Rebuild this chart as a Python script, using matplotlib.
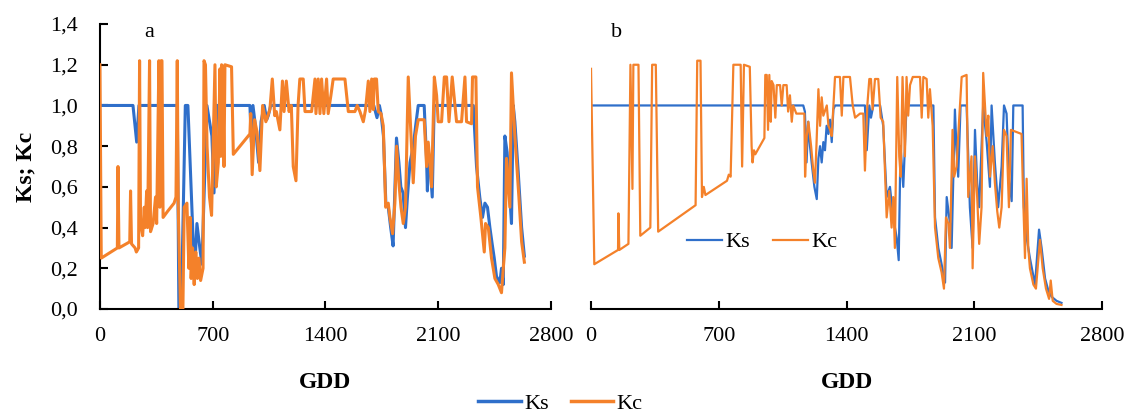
import matplotlib
matplotlib.use("Agg")
import matplotlib.pyplot as plt
from matplotlib.ticker import FuncFormatter
from matplotlib.lines import Line2D

plt.rcParams['font.family'] = ['Liberation Serif', 'DejaVu Serif']

# --- panel a: Ks and Kc against growing degree days ---
gdd_a_ks = [0, 205, 228, 242, 480, 490, 505, 530, 546, 578, 590, 602, 620, 633, 664, 695, 708, 726,
            931, 940, 950, 965, 985, 1000, 1020, 1035, 1045, 1060, 1700, 1720, 1735, 1745, 1760, 1775,
            1790, 1805, 1820, 1841, 1856, 1868, 1882, 1897, 1909, 1925, 1945, 1960, 1976, 2013, 2027,
            2033, 2038, 2048, 2063, 2075, 2318, 2338, 2358, 2375, 2390, 2406, 2421, 2435, 2448, 2462,
            2483, 2493, 2504, 2514, 2528, 2545, 2555, 2566, 2576, 2597, 2618, 2635]
ks_a = [1.0, 1.0, 0.82, 1.0, 1.0, 0.0, 0.0, 1.0, 1.0, 0.35, 0.22, 0.42, 0.3, 0.22, 1.0, 0.85, 0.57, 1.0,
        1.0, 0.82, 1.0, 0.9, 0.72, 0.92, 1.0, 0.93, 0.95, 1.0, 1.0, 0.94, 1.0, 0.96, 0.85, 0.52,
        0.5, 0.4, 0.31, 0.84, 0.72, 0.6, 0.57, 0.4, 0.55, 0.72, 0.8, 0.9, 1.0, 1.0, 0.75,
        0.58, 0.78, 0.72, 0.55, 1.0, 1.0, 0.7, 0.55, 0.45, 0.52, 0.5, 0.4, 0.32, 0.25, 0.16,
        0.13, 0.2, 0.12, 0.85, 0.77, 0.55, 0.42, 1.0, 0.92, 0.67, 0.4, 0.26]

gdd_a_kc = [0, 8, 108, 112, 118, 185, 190, 196, 218, 226, 240, 246, 252, 265, 275, 280, 290, 296, 308,
            314, 330, 345, 352, 366, 372, 380, 385, 392, 420, 460, 472, 480, 486, 500, 515, 523, 540,
            552, 560, 566, 575, 585, 595, 605, 615, 625, 640, 646, 655, 665, 680, 693, 700, 714, 722,
            735, 745, 750, 755, 762, 770, 776, 817, 828, 931, 936, 945, 960, 975, 993, 1010, 1030,
            1055, 1070, 1085, 1095, 1117, 1133, 1143, 1157, 1174, 1188, 1200, 1217, 1230, 1241, 1262,
            1273, 1314, 1335, 1341, 1355, 1366, 1376, 1390, 1407, 1417, 1434, 1448, 1521, 1542, 1583,
            1597, 1614, 1635, 1649, 1666, 1676, 1687, 1697, 1703, 1717, 1728, 1745, 1759, 1774, 1790,
            1800, 1817, 1831, 1842, 1856, 1869, 1883, 1897, 1914, 1931, 1945, 1959, 1976, 2013, 2028,
            2038, 2049, 2059, 2076, 2090, 2100, 2121, 2138, 2152, 2167, 2187, 2204, 2214, 2245, 2266,
            2276, 2307, 2313, 2334, 2344, 2365, 2386, 2394, 2411, 2431, 2452, 2473, 2493, 2504, 2514,
            2524, 2545, 2555, 2576, 2601, 2618, 2635]
kc_a = [1.2, 0.25, 0.3, 0.7, 0.3, 0.33, 0.58, 0.32, 0.3, 0.28, 0.3, 1.22, 0.42, 0.36, 0.5, 0.4, 0.58, 0.4, 1.22,
        0.38, 0.42, 0.55, 0.42, 1.22, 0.5, 1.22, 1.22, 0.45, 0.48, 0.52, 0.55, 1.22, 0.5, 0.0, 0.0, 0.5, 0.52,
        0.2, 0.45, 0.15, 0.3, 0.12, 0.28, 0.15, 0.25, 0.14, 0.2, 1.22, 1.2, 0.8, 0.55, 0.46, 0.7, 1.2, 0.6,
        0.72, 1.18, 0.75, 1.2, 1.19, 0.7, 1.2, 1.19, 0.76, 0.86, 0.96, 0.66, 0.93, 0.87, 0.68, 1.0, 0.92,
        0.98, 1.13, 0.95, 0.97, 0.88, 1.12, 0.97, 1.12, 0.97, 1.0, 0.7, 0.63, 1.0, 1.13, 1.13,
        0.97, 0.97, 1.13, 0.96, 1.13, 0.96, 1.13, 0.96, 1.13, 0.96, 1.05, 1.13, 1.13, 0.97, 0.97,
        1.0, 0.97, 0.92, 0.98, 1.12, 0.97, 1.13, 0.98, 1.13, 1.13, 0.97, 0.96, 0.9, 0.5, 0.52,
        0.45, 0.37, 0.52, 0.8, 0.62, 0.5, 0.42, 0.5, 1.14, 0.85, 0.62, 0.85, 0.93, 0.93, 0.7,
        0.82, 0.72, 0.6, 1.14, 1.05, 0.92, 0.92, 1.14, 1.14, 0.92, 1.14, 1.0, 0.92, 0.92, 1.14,
        0.92, 0.91, 1.14, 1.14, 0.6, 0.45, 0.28, 0.42, 0.4, 0.25, 0.15, 0.12, 0.08, 0.2, 0.3,
        0.74, 0.5, 1.16, 0.85, 0.55, 0.33, 0.23]

# --- panel b ---
gdd_b_ks = [0, 1163, 1172, 1181, 1190, 1200, 1209, 1224, 1237, 1246, 1255, 1264, 1273, 1282, 1291, 1301,
            1310, 1319, 1328, 1337, 1501, 1511, 1525, 1534, 1547, 1584, 1601, 1620, 1638, 1656, 1675,
            1686, 1696, 1711, 1729, 1876, 1885, 1903, 1921, 1940, 1949, 1967, 1976, 1994, 2003, 2012,
            2025, 2058, 2076, 2091, 2104, 2116, 2127, 2149, 2168, 2186, 2195, 2213, 2231, 2250, 2263,
            2277, 2290, 2305, 2314, 2365, 2372, 2387, 2405, 2420, 2433, 2455, 2469, 2488, 2506, 2524,
            2551, 2578]
ks_b = [1.0, 1.0, 0.97, 0.72, 0.92, 0.8, 0.72, 0.6, 0.54, 0.74, 0.8, 0.72, 0.82, 0.78, 0.9, 0.86,
        0.93, 0.82, 0.98, 1.0, 1.0, 0.78, 1.0, 0.94, 1.0, 1.0, 0.9, 0.55, 0.6, 0.45, 0.35,
        0.24, 0.8, 0.6, 1.0, 1.0, 0.45, 0.3, 0.22, 0.13, 0.55, 0.42, 0.3, 0.98, 0.78, 0.65,
        1.0, 1.0, 0.5, 0.3, 0.88, 0.62, 0.5, 1.0, 0.82, 0.6, 1.0, 0.72, 0.5, 0.7, 1.0,
        0.96, 0.65, 0.53, 1.0, 1.0, 0.5, 0.35, 0.25, 0.18, 0.12, 0.39, 0.3, 0.15, 0.09, 0.06,
        0.04, 0.03]

gdd_b_kc = [0, 18, 148, 150, 155, 205, 216, 227, 232, 260, 270, 325, 335, 355, 368, 573, 582, 600, 608,
            618, 627, 745, 755, 765, 780, 820, 828, 838, 870, 880, 885, 893, 900, 950, 955, 963, 970,
            977, 985, 990, 1000, 1010, 1018, 1036, 1045, 1054, 1072, 1080, 1090, 1100, 1108, 1125,
            1169, 1173, 1182, 1191, 1206, 1218, 1227, 1236, 1246, 1255, 1264, 1273, 1292, 1301, 1310,
            1319, 1328, 1337, 1364, 1374, 1383, 1419, 1434, 1447, 1474, 1492, 1501, 1514, 1525, 1534,
            1543, 1556, 1574, 1587, 1601, 1620, 1634, 1647, 1656, 1665, 1678, 1689, 1697, 1707, 1720,
            1729, 1738, 1748, 1763, 1803, 1812, 1821, 1839, 1848, 1857, 1872, 1885, 1903, 1921, 1934,
            1945, 1958, 1967, 1981, 1990, 2003, 2012, 2031, 2058, 2067, 2085, 2091, 2104, 2116, 2127,
            2140, 2149, 2168, 2177, 2186, 2201, 2213, 2226, 2237, 2250, 2263, 2277, 2290, 2301, 2359,
            2368, 2378, 2387, 2396, 2405, 2424, 2438, 2460, 2475, 2493, 2510, 2519, 2530, 2551, 2578]
kc_b = [1.18, 0.22, 0.29, 0.47, 0.29, 0.32, 1.2, 0.59, 1.2, 1.2, 0.36, 0.4, 1.2, 1.2, 0.38, 0.51, 1.22, 1.22, 0.55,
        0.6, 0.56, 0.63, 0.66, 0.65, 1.2, 1.2, 0.7, 1.2, 1.19, 0.8, 0.72, 0.78, 0.76, 0.84, 1.15, 1.15, 0.88,
        1.15, 0.92, 1.12, 1.1, 0.94, 1.1, 1.1, 1.0, 1.1, 1.1, 0.97, 1.05, 0.92, 1.0, 0.96,
        0.96, 0.65, 0.85, 0.92, 0.8, 0.68, 0.62, 0.82, 1.08, 0.9, 1.04, 0.95, 1.0, 0.9, 0.88,
        0.85, 1.0, 1.14, 1.14, 0.95, 1.14, 1.14, 1.0, 0.94, 0.96, 0.96, 0.68, 1.0, 1.13, 1.13,
        0.98, 1.13, 1.13, 0.94, 0.92, 0.45, 0.58, 0.4, 0.55, 0.3, 1.14, 0.75, 0.65, 1.14, 0.75,
        1.14, 0.95, 1.1, 1.14, 1.14, 0.94, 1.14, 1.13, 0.94, 1.08, 0.9, 0.4, 0.25, 0.18, 0.1,
        0.45, 0.42, 0.3, 0.88, 0.65, 0.7, 0.85, 1.14, 1.15, 0.55, 0.75, 0.2, 0.75, 0.55, 0.32,
        0.5, 1.16, 0.85, 0.95, 0.65, 0.8, 0.62, 0.48, 0.4, 0.5, 0.88, 0.85, 0.5, 0.88, 0.86,
        0.55, 0.25, 0.64, 0.3, 0.2, 0.12, 0.1, 0.34, 0.2, 0.1, 0.05, 0.14, 0.04, 0.025, 0.02]

blue = '#2f6fca'
orange = '#f4812a'
fs = 16

fig = plt.figure(figsize=(11.32, 4.16), dpi=100)
ax_a = fig.add_axes([0.0883, 0.2572, 0.3984, 0.685])
ax_b = fig.add_axes([0.5221, 0.2572, 0.4514, 0.685])

ax_a.plot(gdd_a_ks, ks_a, color=blue, lw=2.2, zorder=2)
ax_a.plot(gdd_a_kc, kc_a, color=orange, lw=2.2, zorder=3)
ax_b.plot(gdd_b_ks, ks_b, color=blue, lw=1.6, zorder=2)
ax_b.plot(gdd_b_kc, kc_b, color=orange, lw=1.6, zorder=3)

comma = FuncFormatter(lambda v, p: ('%.1f' % v).replace('.', ','))

for ax in (ax_a, ax_b):
    ax.set_xlim(0, 2800)
    ax.set_ylim(0, 1.4)
    ax.set_xticks([0, 700, 1400, 2100, 2800])
    ax.spines['top'].set_visible(False)
    ax.spines['right'].set_visible(False)
    ax.spines['bottom'].set_linewidth(1.5)
    ax.spines['left'].set_linewidth(1.5)
    ax.tick_params(axis='x', direction='in', length=6, width=1.5, labelsize=fs, pad=13)
    ax.set_xlabel('GDD', fontsize=fs + 1, fontweight='bold')
    ax.xaxis.set_label_coords(0.5, -0.22)

ax_a.set_yticks([0, 0.2, 0.4, 0.6, 0.8, 1.0, 1.2, 1.4])
ax_a.yaxis.set_major_formatter(comma)
ax_a.tick_params(axis='y', direction='in', length=6, width=1.5, labelsize=fs, pad=16)
ax_a.set_ylabel('Ks; Kc', fontsize=fs + 1, fontweight='bold')
ax_a.yaxis.set_label_coords(-0.14, 0.5)

ax_b.spines['left'].set_visible(False)
ax_b.set_yticks([])

ax_a.text(0.11, 0.97, 'a', transform=ax_a.transAxes, fontsize=fs, ha='center', va='center')
ax_b.text(0.05, 0.97, 'b', transform=ax_b.transAxes, fontsize=fs, ha='center', va='center')

handles = [Line2D([], [], color=blue, lw=1.6), Line2D([], [], color=orange, lw=1.6)]
ax_b.legend(handles, ['Ks', 'Kc'], loc='center', bbox_to_anchor=(0.335, 0.235), ncol=2,
            frameon=False, fontsize=fs, handlelength=1.6, handletextpad=0.15, columnspacing=1.0)

fig_handles = [Line2D([], [], color=blue, lw=2.5), Line2D([], [], color=orange, lw=2.5)]
fig.legend(fig_handles, ['Ks', 'Kc'], loc='center', bbox_to_anchor=(0.495, 0.03), ncol=2,
           frameon=False, fontsize=fs, handlelength=1.9, handletextpad=0.15, columnspacing=1.0)

fig.savefig('out.png', dpi=100)
